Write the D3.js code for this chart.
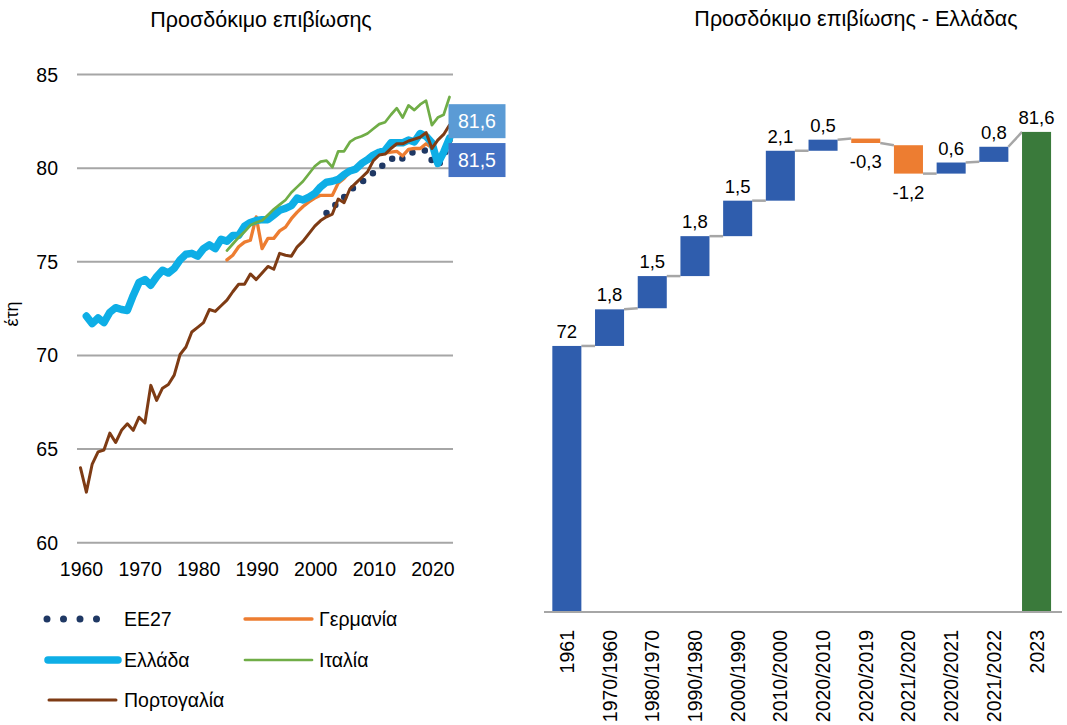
<!DOCTYPE html>
<html lang="el">
<head>
<meta charset="UTF-8">
<title>Προσδόκιμο επιβίωσης</title>
<script src="https://d3js.org/d3.v7.min.js"></script>
<style>
  body { margin: 0; background: #fff; }
  svg { display: block; font-family: "Liberation Sans", Arial, Helvetica, sans-serif; fill: #000; }
</style>
</head>
<body>
<svg id="chart" width="1067" height="725"></svg>
<script>
// ---- left chart data (life expectancy, years) ----
const portugalStart = 1960;
const portugal = [
  64.0, 62.7, 64.2, 64.85, 64.95, 65.85, 65.35, 66.0, 66.35, 66.0,
  66.7, 66.4, 68.4, 67.6, 68.25, 68.45, 68.95, 70.05, 70.45, 71.25,
  71.5, 71.75, 72.45, 72.35, 72.65, 72.95, 73.4, 73.8, 73.8, 74.35,
  74.05, 74.4, 74.75, 74.6, 75.45, 75.35, 75.3, 75.8, 76.1, 76.5,
  76.9, 77.2, 77.4, 77.55, 78.35, 78.15, 78.9, 79.2, 79.5, 79.8,
  80.4, 80.7, 80.75, 81.05, 81.3, 81.3, 81.45, 81.55, 81.65, 81.9,
  81.05, 81.5, 81.8, 82.3
];
const greeceStart = 1961;
const greece = [
  72.1, 71.7, 72.0, 71.75, 72.3, 72.55, 72.45, 72.4, 73.2,
  73.9, 74.05, 73.75, 74.2, 74.55, 74.4, 74.65, 75.1, 75.4, 75.45,
  75.3, 75.7, 75.9, 75.7, 76.2, 76.1, 76.4, 76.4, 76.9, 77.1,
  77.2, 77.25, 77.25, 77.5, 77.75, 77.85, 78.0, 78.4, 78.3, 78.45,
  78.65, 79.0, 79.25, 79.3, 79.4, 79.65, 79.85, 79.95, 80.25, 80.45,
  80.7, 80.85, 80.95, 81.35, 81.35, 81.35, 81.5, 81.4, 81.85, 81.7,
  81.35, 80.25, 80.85, 81.6
];
const germanyStart = 1985;
const germany = [
  75.1, 75.35, 75.8, 76.05, 76.15,
  77.4, 75.7, 76.25, 76.25, 76.65, 76.85, 77.3, 77.65, 77.95, 78.2,
  78.4, 78.55, 78.55, 78.55, 79.2, 79.45, 79.8, 80.0, 80.2, 80.35,
  80.5, 80.75, 80.8, 80.85, 80.9, 80.65, 81.0, 81.05, 81.05, 81.3,
  81.1
];
const italyStart = 1985;
const italy = [
  75.6, 75.95, 76.3, 76.6, 76.95,
  77.1, 77.2, 77.5, 77.8, 78.05, 78.3, 78.7, 79.0, 79.3, 79.7,
  80.1, 80.35, 80.4, 80.05, 80.9, 80.9, 81.4, 81.6, 81.7, 81.85,
  82.1, 82.35, 82.45, 82.85, 83.2, 82.7, 83.35, 83.1, 83.4, 83.6,
  82.3, 82.7, 82.85, 83.8
];
const eu27Start = 2002;
const eu27 = [
  77.6, 77.75, 78.3, 78.45, 78.8, 79.05, 79.25, 79.5,
  79.75, 80.1, 80.15, 80.45, 80.7, 80.5, 80.8, 80.85, 80.9, 80.95,
  80.4, 80.1, 80.6, 81.5
];
const yTicks = [60, 65, 70, 75, 80, 85];
const xTicks = [1960, 1970, 1980, 1990, 2000, 2010, 2020];

// ---- right chart data (waterfall, Greece) ----
const wfCats = ["1961", "1970/1960", "1980/1970", "1990/1980", "2000/1990", "2010/2000",
  "2020/2010", "2020/2019", "2021/2020", "2020/2021", "2021/2022", "2023"];
const wfFrom = [60, 71.95, 73.65, 75.1, 76.9, 78.5, 80.75, 81.3, 81.0, 79.72, 80.25, 60];
const wfTo   = [71.95, 73.6, 75.1, 76.9, 78.5, 80.75, 81.25, 81.1, 79.72, 80.22, 80.93, 81.6];
const wfLabels = ["72", "1,8", "1,5", "1,8", "1,5", "2,1", "0,5", "-0,3", "-1,2", "0,6", "0,8", "81,6"];
const wfKind = ["up", "up", "up", "up", "up", "up", "up", "down", "down", "up", "up", "total"];

const svg = d3.select("#chart");
const fs = 19.5;

// =========== left: line chart ===========
const x = d3.scaleLinear().domain([1960, 2023]).range([80.5, 449.5]);
const y = d3.scaleLinear().domain([60, 85]).range([542.7, 74.5]);

svg.append("text").attr("x", 261).attr("y", 27).attr("text-anchor", "middle")
  .attr("font-size", 21.5).text("Προσδόκιμο επιβίωσης");

svg.append("g").selectAll("line").data(yTicks).join("line")
  .attr("x1", 77).attr("x2", 453)
  .attr("y1", d => y(d)).attr("y2", d => y(d))
  .attr("stroke", "#a6a6a6").attr("stroke-width", 2);

svg.append("g").selectAll("text").data(yTicks).join("text")
  .attr("x", 58).attr("y", d => y(d)).attr("dy", "0.36em")
  .attr("text-anchor", "end").attr("font-size", fs).text(d => d);

svg.append("g").selectAll("text").data(xTicks).join("text")
  .attr("x", d => x(d) + 1).attr("y", 576)
  .attr("text-anchor", "middle").attr("font-size", fs).text(d => d);

svg.append("text").attr("transform", "translate(18,314) rotate(-90)")
  .attr("text-anchor", "middle").attr("font-size", 18).text("έτη");

const toPoints = (start, vals) => vals.map((v, i) => ({ year: start + i, value: v }));
const line = d3.line().x(d => x(d.year)).y(d => y(d.value));

const series = [
  { name: "EE27", pts: toPoints(eu27Start, eu27), color: "#1f3864", width: 6.5, dash: "0 12.5" },
  { name: "Γερμανία", pts: toPoints(germanyStart, germany), color: "#ed7d31", width: 3.3 },
  { name: "Ελλάδα", pts: toPoints(greeceStart, greece), color: "#0eaee6", width: 7.5 },
  { name: "Ιταλία", pts: toPoints(italyStart, italy), color: "#70ad47", width: 2.7 },
  { name: "Πορτογαλία", pts: toPoints(portugalStart, portugal), color: "#7e3b14", width: 3 }
];

svg.append("g").selectAll("path").data(series).join("path")
  .attr("d", d => line(d.pts))
  .attr("fill", "none")
  .attr("stroke", d => d.color)
  .attr("stroke-width", d => d.width)
  .attr("stroke-linejoin", "round")
  .attr("stroke-linecap", "round")
  .attr("stroke-dasharray", d => d.dash || null);

// end-of-line value boxes
const endLabels = [
  { text: "81,6", pts: series[2].pts, fill: "#5b9bd5", dy: -17 },
  { text: "81,5", pts: series[0].pts, fill: "#4472c4", dy: 20 }
];
const lbl = svg.append("g").selectAll("g").data(endLabels).join("g")
  .attr("transform", d => {
    const p = d.pts[d.pts.length - 1];
    return `translate(${x(p.year) - 1},${y(p.value) + d.dy})`;
  });
lbl.append("rect").attr("x", 0).attr("y", -17).attr("width", 57).attr("height", 34)
  .attr("fill", d => d.fill);
lbl.append("text").attr("x", 28.5).attr("dy", "0.36em").attr("text-anchor", "middle")
  .attr("font-size", fs).attr("fill", "#fff").text(d => d.text);

// legend
const legendPos = [
  { sx: 47, tx: 124, cy: 619 },
  { sx: 245, tx: 319, cy: 619 },
  { sx: 48, tx: 124, cy: 660 },
  { sx: 245, tx: 319, cy: 660 },
  { sx: 49, tx: 124, cy: 700 }
];
const legend = svg.append("g").selectAll("g").data(series).join("g");
legend.append("line")
  .attr("x1", (d, i) => legendPos[i].sx)
  .attr("x2", (d, i) => legendPos[i].sx + (i === 0 ? 66 : i === 2 ? 70 : 67))
  .attr("y1", (d, i) => legendPos[i].cy).attr("y2", (d, i) => legendPos[i].cy)
  .attr("stroke", d => d.color)
  .attr("stroke-width", (d, i) => i === 0 ? 7 : d.width)
  .attr("stroke-linecap", "round")
  .attr("stroke-dasharray", (d, i) => i === 0 ? "0 16.5" : null);
legend.append("text")
  .attr("x", (d, i) => legendPos[i].tx).attr("y", (d, i) => legendPos[i].cy)
  .attr("dy", "0.36em").attr("font-size", fs).text(d => d.name);

// =========== right: waterfall ===========
const xb = d3.scaleBand().domain(wfCats).range([545.5, 1057.9]).paddingInner(0.32).paddingOuter(0.16);
const yb = d3.scaleLinear().domain([60, 85]).range([611, 611 - 25 * 22.18]);
const kindColor = { up: "#2f5dad", down: "#ed7d31", total: "#3a7a3b" };

svg.append("text").attr("x", 856).attr("y", 26).attr("text-anchor", "middle")
  .attr("font-size", 21.5).text("Προσδόκιμο επιβίωσης - Ελλάδας");

// connectors
const conn = wfCats.slice(0, -1).map((c, i) => ({
  x1: xb(c) + xb.bandwidth(), y1: wfTo[i],
  x2: xb(wfCats[i + 1]), y2: wfKind[i + 1] === "total" ? wfTo[i + 1] : wfFrom[i + 1]
}));
svg.append("g").selectAll("line").data(conn).join("line")
  .attr("x1", d => d.x1).attr("x2", d => d.x2)
  .attr("y1", d => yb(d.y1)).attr("y2", d => yb(d.y2))
  .attr("stroke", "#a6a6a6").attr("stroke-width", 2.5);

svg.append("g").selectAll("rect").data(wfCats).join("rect")
  .attr("x", d => xb(d))
  .attr("width", xb.bandwidth())
  .attr("y", (d, i) => yb(Math.max(wfFrom[i], wfTo[i])))
  .attr("height", (d, i) => Math.abs(yb(wfFrom[i]) - yb(wfTo[i])))
  .attr("fill", (d, i) => kindColor[wfKind[i]]);

svg.append("line").attr("x1", 544).attr("x2", 1062).attr("y1", 612).attr("y2", 612)
  .attr("stroke", "#a6a6a6").attr("stroke-width", 2);

svg.append("g").selectAll("text").data(wfCats).join("text")
  .attr("x", d => xb(d) + xb.bandwidth() / 2)
  .attr("y", (d, i) => wfKind[i] === "down" ? yb(wfTo[i]) + 25 : yb(wfTo[i]) - 8)
  .attr("text-anchor", "middle").attr("font-size", 18.5)
  .text((d, i) => wfLabels[i]);

svg.append("g").selectAll("text").data(wfCats).join("text")
  .attr("transform", d => `translate(${xb(d) + xb.bandwidth() / 2},630) rotate(-90)`)
  .attr("dy", "0.36em").attr("text-anchor", "end").attr("font-size", fs)
  .text(d => d);
</script>
</body>
</html>
